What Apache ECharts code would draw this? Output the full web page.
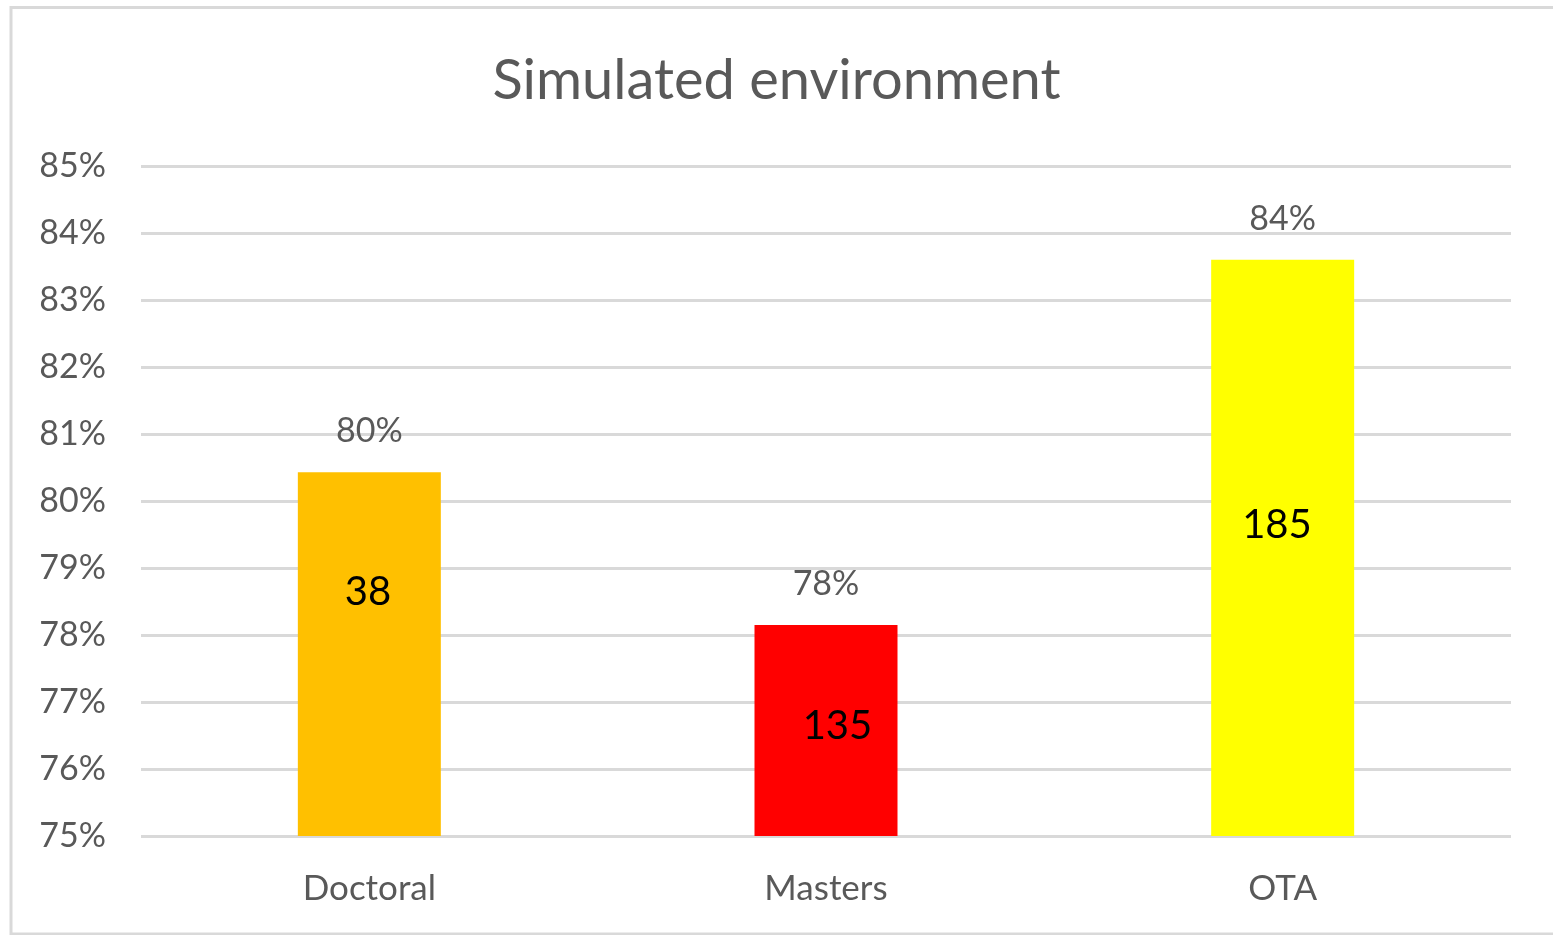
<!DOCTYPE html>
<html>
<head>
<meta charset="utf-8">
<script src="https://cdn.jsdelivr.net/npm/echarts@6/dist/echarts.min.js"></script>
<style>
  html, body { margin: 0; padding: 0; background: #fff; }
  #chart { width: 1553px; height: 935px; }
</style>
</head>
<body>
<div id="chart"></div>
<script>
// data
const categories = ["Doctoral", "Masters", "OTA"];
const rates = [80.43, 78.15, 83.6]; // percent
const counts = [38, 135, 185];
const yTicks = [75, 76, 77, 78, 79, 80, 81, 82, 83, 84, 85];

const barColors = ["#FFC000", "#FF0000", "#FFFF00"];
// where the count label sits inside each bar (relative to the bar)
const countPos = [["49%", "33%"], ["58%", "48%"], ["46%", "46%"]];

const font = "Lato, 'Open Sans', sans-serif";
const grey = "#595959";

const chart = echarts.init(document.getElementById("chart"));

const option = {
  backgroundColor: "#fff",
  animation: false,
  graphic: [
    {
      type: "rect",
      shape: { x: 11, y: 7.5, width: 1600, height: 926.5 },
      style: { fill: "none", stroke: "#d9d9d9", lineWidth: 3 },
      silent: true,
    },
  ],
  title: {
    text: "Simulated environment",
    left: "center",
    top: 48,
    textStyle: { color: grey, fontFamily: font, fontSize: 56, fontWeight: "normal" },
  },
  grid: { left: 141, right: 42, top: 166, bottom: 99 },
  xAxis: {
    type: "category",
    data: categories,
    axisLine: { show: false },
    axisTick: { show: false },
    axisLabel: { color: grey, fontFamily: font, fontSize: 35, margin: 35 },
  },
  yAxis: {
    type: "value",
    min: yTicks[0],
    max: yTicks[yTicks.length - 1],
    interval: 1,
    axisLine: { show: false },
    axisTick: { show: false },
    splitLine: { lineStyle: { color: "#d9d9d9", width: 3 } },
    axisLabel: {
      color: grey,
      fontFamily: font,
      fontSize: 34,
      margin: 35,
      formatter: (v) => v + "%",
    },
  },
  series: [
    {
      type: "bar",
      barWidth: 143,
      data: rates.map((v, i) => ({ value: v, itemStyle: { color: barColors[i] } })),
      label: {
        show: true,
        position: "top",
        distance: 24,
        color: grey,
        fontFamily: font,
        fontSize: 34,
        formatter: (p) => Math.round(p.value) + "%",
      },
    },
    {
      // transparent twin so each bar can carry the count label as well
      type: "bar",
      barWidth: 143,
      barGap: "-100%",
      silent: true,
      z: 3,
      itemStyle: { color: "transparent" },
      data: rates.map((v, i) => ({
        value: v,
        label: { position: countPos[i] },
      })),
      label: {
        show: true,
        align: "center",
        verticalAlign: "middle",
        color: "#000",
        fontFamily: font,
        fontSize: 40,
        formatter: (p) => String(counts[p.dataIndex]),
      },
    },
  ],
};

chart.setOption(option);
</script>
</body>
</html>
